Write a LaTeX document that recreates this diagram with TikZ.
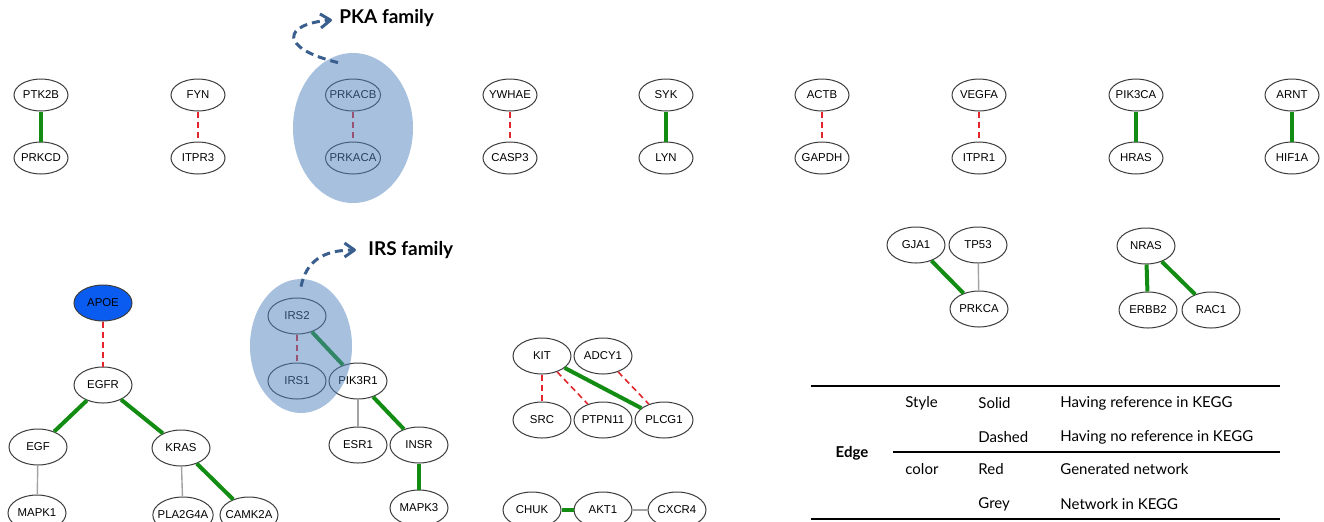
\documentclass[tikz,border=0pt]{standalone}
\usepackage{fontspec}
\setmainfont{Liberation Sans}
\newfontfamily\tablefont{Lato}
\usepackage{tikz}
\usetikzlibrary{arrows.meta,shapes.geometric}
\usepackage{xcolor}
\definecolor{linkgreen}{HTML}{128C12}
\definecolor{linkred}{HTML}{E3262B}
\definecolor{linkgray}{HTML}{A3A3A3}
\definecolor{nodeline}{HTML}{3C3C3C}
\definecolor{apoeblue}{HTML}{0A5CF0}
\definecolor{famblue}{HTML}{4F81BD}
\definecolor{famarrow}{HTML}{3A5F8E}

\begin{document}
\begin{tikzpicture}[x=0.5pt, y=-0.5pt, >={Straight Barb[length=5pt,width=7pt,line join=round]},
  gene/.style={ellipse, draw=nodeline, fill=white, line width=0.5pt, inner xsep=-2pt, inner ysep=0pt,
    minimum width=29pt, minimum height=18pt, font=\fontsize{5.7}{6}\selectfont},
  pair/.style={gene, minimum width=27pt, minimum height=16pt},
  both/.style={linkgreen, line width=2pt},
  novel/.style={linkred, line width=0.8pt, dash pattern=on 3pt off 2pt},
  kegg/.style={linkgray, line width=0.7pt},
  family/.style={ellipse, fill=famblue, fill opacity=0.5, inner sep=0pt},
  familyarrow/.style={->, famarrow, line width=1.5pt, dash pattern=on 4pt off 2.5pt},
  familylabel/.style={anchor=west, inner sep=0pt, font=\tablefont\bfseries\fontsize{9.5}{11}\selectfont},
  legend/.style={anchor=west, inner sep=0pt, font=\tablefont\fontsize{7.5}{9}\selectfont}]
  \useasboundingbox (0,0) rectangle (1324,521);
  \foreach \ga/\gb/\xx/\kind in {PTK2B/PRKCD/41/both, FYN/ITPR3/198/novel, PRKACB/PRKACA/353/novel,
      YWHAE/CASP3/510/novel, SYK/LYN/666/both, ACTB/GAPDH/822/novel, VEGFA/ITPR1/979/novel,
      PIK3CA/HRAS/1136/both, ARNT/HIF1A/1292/both}{
    \node[pair] (\ga) at (\xx,95) {\ga};
    \node[pair] (\gb) at (\xx,158) {\gb};
    \draw[\kind] (\ga) -- (\gb);
  }
  \node[gene, fill=apoeblue] (APOE) at (103,303) {APOE};
  \node[gene] (EGFR) at (103,385) {EGFR};
  \node[gene] (EGF) at (38,447) {EGF};
  \node[gene] (KRAS) at (181,448) {KRAS};
  \node[gene] (MAPK1) at (37,513) {MAPK1};
  \node[gene] (PLA2G4A) at (183,515) {PLA2G4A};
  \node[gene] (CAMK2A) at (249,515) {CAMK2A};
  \draw[novel] (APOE) -- (EGFR);
  \draw[both] (EGFR) -- (EGF);
  \draw[both] (EGFR) -- (KRAS);
  \draw[kegg] (EGF) -- (MAPK1);
  \draw[kegg] (KRAS) -- (PLA2G4A);
  \draw[both] (KRAS) -- (CAMK2A);

  \node[gene] (IRS2) at (297,316) {IRS2};
  \node[gene] (IRS1) at (297,381) {IRS1};
  \node[gene] (PIK3R1) at (358,381) {PIK3R1};
  \node[gene] (ESR1) at (358,445) {ESR1};
  \node[gene] (INSR) at (419,445) {INSR};
  \node[gene] (MAPK3) at (419,508) {MAPK3};
  \draw[novel] (IRS2) -- (IRS1);
  \draw[both] (IRS2) -- (PIK3R1);
  \draw[kegg] (PIK3R1) -- (ESR1);
  \draw[both] (PIK3R1) -- (INSR);
  \draw[both] (INSR) -- (MAPK3);

  \node[gene] (KIT) at (542,356) {KIT};
  \node[gene] (ADCY1) at (603,356) {ADCY1};
  \node[gene] (SRC) at (542,420) {SRC};
  \node[gene] (PTPN11) at (603,420) {PTPN11};
  \node[gene] (PLCG1) at (664,420) {PLCG1};
  \draw[novel] (KIT) -- (SRC);
  \draw[novel] (KIT) -- (PTPN11);
  \draw[both] (KIT) -- (PLCG1);
  \draw[novel] (ADCY1) -- (PLCG1);
  \node[gene] (CHUK) at (532,510) {CHUK};
  \node[gene] (AKT1) at (603,510) {AKT1};
  \node[gene] (CXCR4) at (677,510) {CXCR4};
  \draw[both] (CHUK) -- (AKT1);
  \draw[kegg] (AKT1) -- (CXCR4);

  \node[gene] (GJA1) at (916,245) {GJA1};
  \node[gene] (TP53) at (978,245) {TP53};
  \node[gene] (PRKCA) at (979,309) {PRKCA};
  \draw[both] (GJA1) -- (PRKCA);
  \draw[kegg] (TP53) -- (PRKCA);
  \node[gene] (NRAS) at (1146,246) {NRAS};
  \node[gene] (ERBB2) at (1148,310) {ERBB2};
  \node[gene] (RAC1) at (1211,310) {RAC1};
  \draw[both] (NRAS) -- (ERBB2);
  \draw[both] (NRAS) -- (RAC1);

  \node[family, minimum width=60pt, minimum height=75pt] (pkagroup) at (353,128) {};
  \node[family, minimum width=51pt, minimum height=67pt] (irsgroup) at (301,346) {};
  \node[familylabel] (pkalabel) at (339,18) {PKA family};
  \node[familylabel] (irslabel) at (368,250) {IRS family};
  \draw[familyarrow] ([xshift=-7.5pt,yshift=-5pt]pkagroup.north) .. controls (278,48) and (283,24) .. ([xshift=-3.5pt,yshift=-1pt]pkalabel.west);
  \draw[familyarrow] ([yshift=-4pt]irsgroup.north) .. controls (306,262) and (322,250) .. ([xshift=-6pt]irslabel.west);

  \draw[line width=1pt] (811,386) -- (1280,386);
  \draw[line width=0.8pt] (893,452) -- (1280,452);
  \draw[line width=1pt] (811,519) -- (1280,519);
  \node[legend, anchor=center, font=\tablefont\bfseries\fontsize{7.5}{9}\selectfont] (ledge) at (852,453) {Edge};
  \node[legend] (lstyle) at (905,403) {Style};
  \node[legend] (lsolid) at (978,403) {Solid};
  \node[legend] (lsolidtxt) at (1060,403) {Having reference in KEGG};
  \node[legend] (ldashed) at (978,437) {Dashed};
  \node[legend] (ldashedtxt) at (1060,437) {Having no reference in KEGG};
  \node[legend] (lcolor) at (905,469) {color};
  \node[legend] (lred) at (978,469) {Red};
  \node[legend] (lredtxt) at (1060,469) {Generated network};
  \node[legend] (lgrey) at (978,504) {Grey};
  \node[legend] (lgreytxt) at (1060,504) {Network in KEGG};
\end{tikzpicture}
\end{document}
